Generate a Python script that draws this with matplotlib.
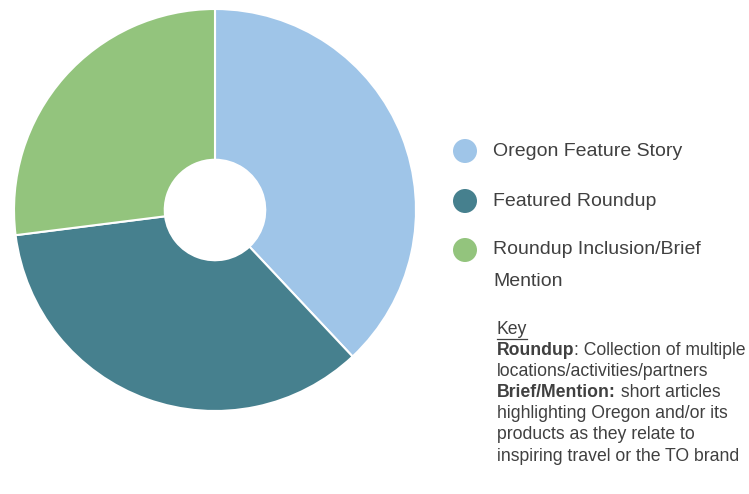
import matplotlib
matplotlib.use("Agg")
import matplotlib.pyplot as plt
from matplotlib import font_manager

categories = ["Oregon Feature Story", "Featured Roundup", "Roundup Inclusion/Brief\nMention"]
values = [38, 35, 27]
colors = ["#9FC5E8", "#46808E", "#93C47D"]

key_title = "Key"
key_lines = [
    [("Roundup", True), (": Collection of multiple", False)],
    [("locations/activities/partners", False)],
    [("Brief/Mention:", True), (" short articles", False)],
    [("highlighting Oregon and/or its", False)],
    [("products as they relate to", False)],
    [("inspiring travel or the TO brand", False)],
]

avail = {f.name for f in font_manager.fontManager.ttflist}
fam = "Liberation Sans Narrow" if "Liberation Sans Narrow" in avail else "Liberation Sans"

W, H = 749, 494
fig = plt.figure(figsize=(W / 100, H / 100), dpi=100)
fig.patch.set_facecolor("white")

def px(x, y):
    return x / W, 1 - y / H

ax = fig.add_axes([14 / W, (H - 412) / H, 402 / W, 404 / H])
ax.pie(values, colors=colors, startangle=90, counterclock=False,
       wedgeprops=dict(width=0.75, edgecolor="white", linewidth=1.5))
ax.set_aspect("equal")
ax.set_xlim(-1.0, 1.0)
ax.set_ylim(-1.0, 1.0)
ax.axis("off")

text_color = "#404040"
leg_fs = 14
leg_y = [151, 201, 250]
for cat, col, y in zip(categories, colors, leg_y):
    fig.patches.append(matplotlib.patches.Ellipse(px(465, y), 24 / W, 24 / H,
                                                  transform=fig.transFigure,
                                                  facecolor=col, edgecolor="none"))
    for j, part in enumerate(cat.split("\n")):
        fig.text(*px(493, y + j * 31), part, ha="left", va="center",
                 fontsize=leg_fs, family=fam, color=text_color)

fig.canvas.draw()
renderer = fig.canvas.get_renderer()

fs = 12.7
t = fig.text(*px(497, 329), key_title, ha="left", va="center", fontsize=fs,
             family=fam, color=text_color)
bb = t.get_window_extent(renderer)
fig.add_artist(matplotlib.lines.Line2D([bb.x0 / W, bb.x1 / W],
                                       [(bb.y0 - 1) / H, (bb.y0 - 1) / H],
                                       transform=fig.transFigure, color=text_color, lw=0.9))
y0 = 350
for i, line in enumerate(key_lines):
    y = y0 + i * 21.2
    x = 497
    for s, bold in line:
        tt = fig.text(*px(x, y), s, ha="left", va="center", fontsize=fs, family=fam,
                      color=text_color, fontweight="bold" if bold else "normal")
        e = tt.get_window_extent(renderer)
        x += e.width

fig.savefig("out.png", dpi=100, facecolor="white")
